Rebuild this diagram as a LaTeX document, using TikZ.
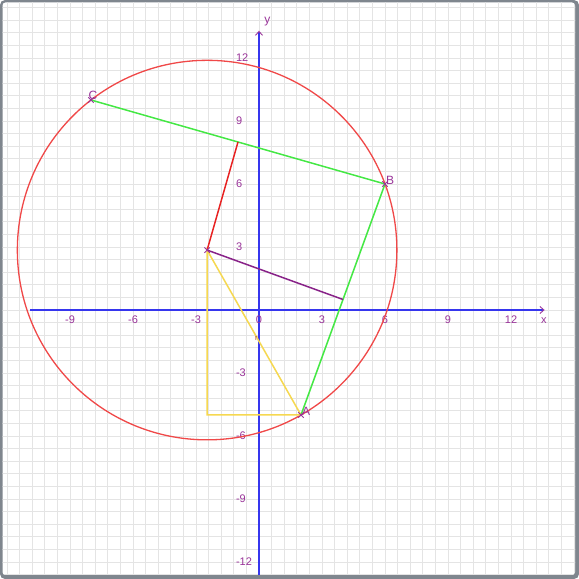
\documentclass[tikz,border=0pt]{standalone}
\usepackage{fontspec}
\setmainfont{Liberation Sans}
\usetikzlibrary{arrows.meta,shapes.misc}
\definecolor{lab}{HTML}{993399}
\definecolor{axisblue}{HTML}{3636EE}
\definecolor{gridc}{HTML}{E4E4E4}
\definecolor{framec}{HTML}{7F868E}
\definecolor{circc}{HTML}{F04848}
\definecolor{redc}{HTML}{E82222}
\definecolor{greenc}{HTML}{44E844}
\definecolor{yellowc}{HTML}{F6D850}
\definecolor{purplec}{HTML}{882288}
\definecolor{rlab}{HTML}{AA4433}
\begin{document}
\begin{tikzpicture}[x=1pt,y=1pt,
  gridline/.style={gridc,line width=0.8pt},
  axisline/.style={axisblue,line width=2pt,-{Straight Barb[length=4pt,width=7pt,color=lab,line width=0.9pt]}},
  ticklab/.style={text=lab,font=\fontsize{11}{13}\selectfont,inner sep=1pt},
  ptlab/.style={text=lab,font=\fontsize{12}{14}\selectfont,inner sep=0.5pt},
  ptmark/.style={draw=lab,cross out,minimum size=4.5pt,inner sep=0pt,line width=0.9pt},
  seg/.style={line width=1.5pt}]
\useasboundingbox (0,0) rectangle (579,579);
\fill[white] (0,0) rectangle (579,579);
\fill[framec,rounded corners=5pt] (0,0) rectangle (579,579);
\fill[white,rounded corners=3pt] (2.5,4) rectangle (575,576.5);
\begin{scope}
\clip[rounded corners=3pt] (2.5,4) rectangle (575,576.5);
\foreach \k in {-20,...,25} \draw[gridline] ({259+12.6*\k},0) -- ++(0,579);
\foreach \k in {-21,...,24} \draw[gridline] (0,{269+12.6*\k}) -- ++(579,0);
\begin{scope}[shift={(259,269)},x=21pt,y=21pt]
  \coordinate (xs) at (-10.9,0);
  \coordinate (xe) at (13.6,0);
  \coordinate (ys) at (0,-13);
  \coordinate (ye) at (0,13.3);
  \draw[axisline] (xs) -- (xe);
  \draw[axisline] (ys) -- (ye);
  \foreach \i in {-9,-6,-3,0,3,6,9,12}
    \node[ticklab,anchor=north] (tx\i) at (\i,-0.2) {\i};
  \foreach \j in {-12,-9,-6,-3,3,6,9,12}
    \node[ticklab,anchor=west] (ty\j) at (-1.15,\j) {\j};
  \node[ticklab] (xl) at (13.57,-0.5) {x};
  \node[ticklab,font=\fontsize{12}{14}\selectfont] (yl) at (0.4,13.72) {y};
  \coordinate (O) at (-2.470588,2.852941);
  \coordinate (A) at (2,-5);
  \coordinate (B) at (6,6);
  \coordinate (C) at (-8,10);
  \coordinate (Mbc) at (-1,8);
  \coordinate (Mab) at (4,0.5);
  \coordinate (F) at (O |- A);
  \draw[circc,line width=1.3pt] (O) circle[radius=9.0363];
  \draw[yellowc,seg] (O) -- (F) -- (A) -- cycle;
  \draw[greenc,seg] (C) -- (B) -- (A);
  \draw[redc,seg] (O) -- (Mbc);
  \draw[purplec,seg] (O) -- (Mab);
  \node[text=rlab,font=\fontsize{7.5}{8}\selectfont,inner sep=0pt] (rl) at (-0.12,-1.38) {r};
  \foreach \p in {O,A,B,C} \node[ptmark] (m\p) at (\p) {};
  \node[ptlab,anchor=south west] (Al) at ([xshift=0.5pt,yshift=-1pt]A) {A};
  \node[ptlab,anchor=south west] (Bl) at ([xshift=0.5pt,yshift=-1.5pt]B) {B};
  \node[ptlab,anchor=south west] (Cl) at ([xshift=-3pt,yshift=0pt]C) {C};
\end{scope}
\end{scope}
\end{tikzpicture}
\end{document}
